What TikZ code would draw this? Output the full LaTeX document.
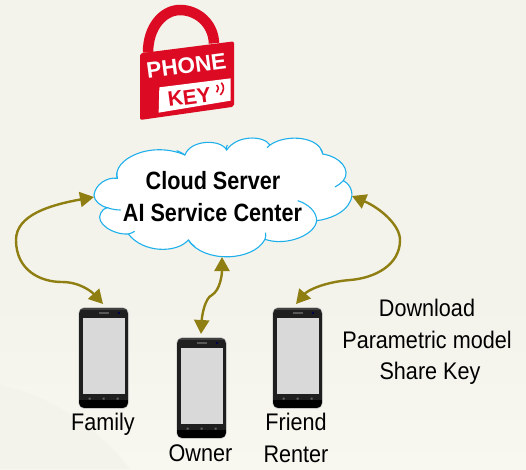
\documentclass[tikz,border=0pt]{standalone}
\usepackage{fontspec}
\setmainfont{Liberation Sans}
\usetikzlibrary{arrows.meta}
\definecolor{bgc}{HTML}{F3F3EB}
\definecolor{bgl}{HTML}{F8F8F1}
\definecolor{olivec}{HTML}{8F7F12}
\definecolor{cloudc}{HTML}{1FB0EC}
\definecolor{redc}{HTML}{DC0A22}
\definecolor{scrc}{HTML}{D9D9D9}
\tikzset{
  link/.style={draw=olivec,line width=2.4pt,{Triangle[length=14pt,width=15pt]}-{Triangle[length=14pt,width=15pt]}},
  lab/.style={font=\fontsize{24}{28}\selectfont,text=black,inner sep=0pt,anchor=base},
  cloudtxt/.style={font=\fontsize{25}{30}\selectfont\bfseries,text=black,inner sep=0pt,anchor=base}
}
\newcommand{\lb}[1]{\scalebox{.90}[1]{#1}}
\newcommand{\cb}[1]{\scalebox{.865}[1]{#1}}
\newcommand{\phonepic}[2]{%
  \begin{scope}[shift={(#1,#2)}]
    \fill[black!30,rounded corners=6pt] (-25,-.6) rectangle (25,100.6);
    \begin{scope}
      \clip[rounded corners=5.5pt] (-24.5,0) rectangle (24.5,100);
      \fill[black!88] (-24.5,0) rectangle (24.5,100);
      \fill[black] (-24.5,92) rectangle (24.5,100);
      \fill[black!75] (-24.5,0) rectangle (24.5,2);
    \end{scope}
    \fill[black!65] (-5,4) rectangle (5,5.5);
    \fill[black!70!blue] (14,4.2) rectangle (16,5.6);
    \fill[black!60] (-15,89.5) rectangle (-13,91.5) (-1,89.5) rectangle (1,91.5) (13,89.5) rectangle (15,91.5);
    \fill[scrc] (-21,10) rectangle (21,86);
  \end{scope}}
\begin{document}
\begin{tikzpicture}[x=1pt,y=-1pt]
\useasboundingbox (0,0) rectangle (526,469);
\fill[bgc] (0,0) rectangle (526,469);
\shade[top color=bgc,bottom color=bgl] (0,300) rectangle (526,469);
\fill[bgc] (0,385) .. controls (50,395) and (100,430) .. (130,469) -- (0,469) -- cycle;
% lock
\begin{scope}[shift={(120,0)},scale=1/3]
  \draw[redc,line width=10.5pt] (84,158) .. controls (84,80) and (130,30) .. (180,30) .. controls (232,30) and (280,70) .. (282,130);
  \fill[redc,rounded corners=2pt] (60,160) -- (342,124) -- (342,320) -- (60,360) -- cycle;
  \fill[white] (118,262) -- (332,235) -- (332,302) -- (116,338) -- cycle;
  \node[text=white,font=\fontsize{22.5}{22}\selectfont\bfseries,inner sep=0pt,rotate=7.5] (ph) at (199,198) {PHONE};
  \node[text=redc,font=\fontsize{21}{21}\selectfont\bfseries,inner sep=0pt,rotate=7.5] (ky) at (208,291) {KEY};
  \draw[redc,line width=1.6pt] (290,255) .. controls (297,262) and (296,270) .. (290,277);
  \draw[redc,line width=1.6pt] (304,248) .. controls (314,258) and (312,274) .. (301,285);
\end{scope}
% cloud
\begin{scope}[shift={(0,130)},scale=1/3,every path/.append style={line width=1.1pt}]
  \path[fill=white,draw=cloudc]
  (282,195) .. controls (285,165) and (320,140) .. (352,145)
  .. controls (335,90) and (450,30) .. (555,75)
  .. controls (570,30) and (660,25) .. (680,60)
  .. controls (710,15) and (790,15) .. (810,45)
  .. controls (860,10) and (960,20) .. (968,72)
  .. controls (1020,80) and (1055,120) .. (1030,152)
  .. controls (1055,165) and (1062,195) .. (1050,215)
  .. controls (1035,250) and (985,268) .. (950,272)
  .. controls (945,315) and (860,350) .. (795,328)
  .. controls (760,395) and (610,400) .. (565,330)
  .. controls (530,370) and (430,370) .. (385,312)
  .. controls (340,315) and (285,280) .. (302,250)
  .. controls (305,240) and (312,237) .. (322,233)
  .. controls (300,228) and (282,212) .. (282,195) -- cycle;
  \draw[cloudc] (322,233) .. controls (335,238) and (350,240) .. (362,240);
  \draw[cloudc] (893,212) .. controls (925,222) and (950,245) .. (950,272);
  \draw[cloudc] (1030,152) .. controls (1022,160) and (1015,166) .. (1005,171);
  \draw[cloudc] (795,328) .. controls (797,320) and (798,315) .. (797,308);
  \draw[cloudc] (585,350) .. controls (577,345) and (570,338) .. (565,330);
  \draw[cloudc] (385,312) .. controls (392,310) and (398,308) .. (404,304);
  \draw[cloudc] (530,62) .. controls (540,65) and (548,70) .. (555,75);
  \draw[cloudc] (680,60) .. controls (678,55) and (678,50) .. (682,45);
  \draw[cloudc] (810,45) .. controls (806,47) and (803,50) .. (801,53);
  \draw[cloudc] (968,72) .. controls (968,67) and (965,62) .. (962,58);
  \draw[cloudc] (352,145) .. controls (351,140) and (350,135) .. (350,128);
\end{scope}
\node[cloudtxt] (t1) at (213,189) {\cb{Cloud Server}};
\node[cloudtxt] (t2) at (212.5,221) {\cb{AI Service Center}};
% phones
\phonepic{103.5}{308}
\phonepic{201.5}{338}
\phonepic{297.5}{308}
\coordinate (fam) at (103,304);
\coordinate (own) at (201,334);
\coordinate (fri) at (296,304);
\coordinate (cl) at (94,197);
\coordinate (cb) at (222,257);
\coordinate (cr) at (352,196);
\draw[link] (cl) .. controls (50,205) and (16,215) .. (16,240) .. controls (16,270) and (40,282) .. (62,282) .. controls (80,282) and (92,292) .. (fam);
\draw[link] (cb) .. controls (222,275) and (220,290) .. (212,295) .. controls (205,298) and (202,315) .. (own);
\draw[link] (cr) .. controls (380,208) and (400,225) .. (400,240) .. controls (400,265) and (375,278) .. (350,280) .. controls (325,282) and (308,290) .. (fri);
\node[lab] (l1) at (103,430) {\lb{Family}};
\node[lab] (l2) at (200.5,461) {\lb{Owner}};
\node[lab] (l3) at (296,430) {\lb{Friend}};
\node[lab] (l4) at (296,462) {\lb{Renter}};
\node[lab] (d1) at (427,316) {\lb{Download}};
\node[lab] (d2) at (427,348) {\lb{Parametric model}};
\node[lab] (d3) at (430,379) {\lb{Share Key}};
\end{tikzpicture}
\end{document}
